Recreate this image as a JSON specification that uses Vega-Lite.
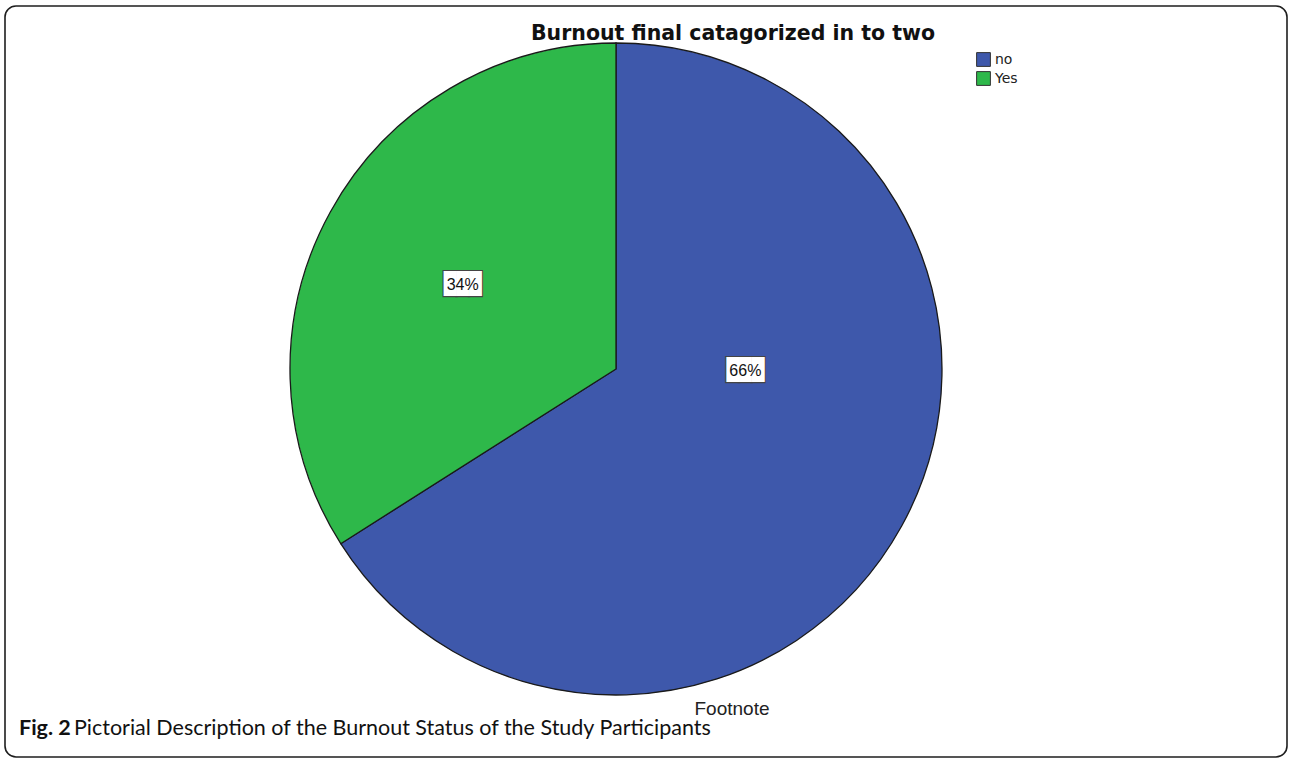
{
  "$schema": "https://vega.github.io/schema/vega-lite/v6.json",
  "width": 1290,
  "height": 761,
  "autosize": {"type": "fit", "contains": "padding"},
  "padding": {"left": 4, "top": 5, "right": 2, "bottom": 3},
  "background": "white",
  "config": {
    "view": {"stroke": null},
    "font": "Liberation Sans"
  },
  "datasets": {
    "pie": [
      {"status": "no", "pct": 66, "rank": 1, "label": "66%"},
      {"status": "Yes", "pct": 34, "rank": 2, "label": "34%"}
    ]
  },
  "layer": [
    {
      "data": {"values": [{}]},
      "mark": {"type": "rect", "filled": false, "stroke": "#1e1e1e", "strokeWidth": 1.6, "cornerRadius": 11},
      "encoding": {
        "x": {"value": 0},
        "x2": {"value": "width"},
        "y": {"value": 0},
        "y2": {"value": "height"}
      }
    },
    {
      "data": {"name": "pie"},
      "mark": {"type": "arc", "radius": 326, "x": 611, "y": 363, "stroke": "#1a1a1a", "strokeWidth": 1.3},
      "encoding": {
        "theta": {"field": "pct", "type": "quantitative", "stack": true},
        "order": {"field": "rank", "type": "quantitative"},
        "color": {
          "field": "status",
          "type": "nominal",
          "sort": ["no", "Yes"],
          "scale": {"domain": ["no", "Yes"], "range": ["#3E58AB", "#2EB84A"]},
          "legend": {
            "orient": "none",
            "legendX": 971,
            "legendY": 46,
            "title": null,
            "padding": 0,
            "symbolType": "square",
            "symbolSize": 190,
            "symbolStrokeColor": "#333333",
            "symbolStrokeWidth": 1,
            "symbolOpacity": 1,
            "labelFont": "DejaVu Sans",
            "labelFontSize": 14,
            "labelColor": "#222222",
            "labelOffset": 4,
            "rowPadding": 0
          }
        }
      }
    },
    {
      "data": {"name": "pie"},
      "mark": {"type": "text", "radius": 175, "x": 611, "y": 363, "dx": 0, "dy": 0, "font": "DejaVu Sans Mono", "fontSize": 21, "baseline": "middle", "fill": "white", "stroke": "#444444", "strokeWidth": 2.2},
      "encoding": {
        "theta": {"field": "pct", "type": "quantitative", "stack": true},
        "order": {"field": "rank", "type": "quantitative"},
        "detail": {"field": "status", "type": "nominal"},
        "text": {"condition": {"test": "datum.status == 'Yes'", "value": "███"}, "value": ""}
      }
    },
    {
      "data": {"name": "pie"},
      "mark": {"type": "text", "radius": 175, "x": 611, "y": 363, "dx": 0, "dy": 0, "font": "DejaVu Sans Mono", "fontSize": 21, "baseline": "middle", "fill": "white"},
      "encoding": {
        "theta": {"field": "pct", "type": "quantitative", "stack": true},
        "order": {"field": "rank", "type": "quantitative"},
        "detail": {"field": "status", "type": "nominal"},
        "text": {"condition": {"test": "datum.status == 'Yes'", "value": "███"}, "value": ""}
      }
    },
    {
      "data": {"name": "pie"},
      "mark": {"type": "text", "radius": 175, "x": 611, "y": 363, "dx": 0, "dy": 0, "fontSize": 16, "baseline": "middle", "color": "#111111"},
      "encoding": {
        "theta": {"field": "pct", "type": "quantitative", "stack": true},
        "order": {"field": "rank", "type": "quantitative"},
        "detail": {"field": "status", "type": "nominal"},
        "text": {"condition": {"test": "datum.status == 'Yes'", "field": "label"}, "value": ""}
      }
    },
    {
      "data": {"name": "pie"},
      "mark": {"type": "text", "radius": 175, "x": 611, "y": 363, "dx": -24, "dy": -82, "font": "DejaVu Sans Mono", "fontSize": 21, "baseline": "middle", "fill": "white", "stroke": "#444444", "strokeWidth": 2.2},
      "encoding": {
        "theta": {"field": "pct", "type": "quantitative", "stack": true},
        "order": {"field": "rank", "type": "quantitative"},
        "detail": {"field": "status", "type": "nominal"},
        "text": {"condition": {"test": "datum.status == 'no'", "value": "███"}, "value": ""}
      }
    },
    {
      "data": {"name": "pie"},
      "mark": {"type": "text", "radius": 175, "x": 611, "y": 363, "dx": -24, "dy": -82, "font": "DejaVu Sans Mono", "fontSize": 21, "baseline": "middle", "fill": "white"},
      "encoding": {
        "theta": {"field": "pct", "type": "quantitative", "stack": true},
        "order": {"field": "rank", "type": "quantitative"},
        "detail": {"field": "status", "type": "nominal"},
        "text": {"condition": {"test": "datum.status == 'no'", "value": "███"}, "value": ""}
      }
    },
    {
      "data": {"name": "pie"},
      "mark": {"type": "text", "radius": 175, "x": 611, "y": 363, "dx": -24, "dy": -82, "fontSize": 16, "baseline": "middle", "color": "#111111"},
      "encoding": {
        "theta": {"field": "pct", "type": "quantitative", "stack": true},
        "order": {"field": "rank", "type": "quantitative"},
        "detail": {"field": "status", "type": "nominal"},
        "text": {"condition": {"test": "datum.status == 'no'", "field": "label"}, "value": ""}
      }
    },
    {
      "data": {"values": [{"t": "Burnout final catagorized in to two"}]},
      "mark": {"type": "text", "x": 728, "y": 34, "align": "center", "baseline": "alphabetic", "font": "DejaVu Sans", "fontSize": 20.5, "fontWeight": "bold", "color": "#111111"},
      "encoding": {"text": {"field": "t", "type": "nominal"}}
    },
    {
      "data": {"values": [{"t": "Footnote"}]},
      "mark": {"type": "text", "x": 727, "y": 709, "align": "center", "baseline": "alphabetic", "fontSize": 19, "color": "#222222"},
      "encoding": {"text": {"field": "t", "type": "nominal"}}
    },
    {
      "data": {"values": [{"t": "Fig. 2"}]},
      "mark": {"type": "text", "x": 14, "y": 729, "align": "left", "baseline": "alphabetic", "fontSize": 21.5, "fontWeight": "bold", "font": "Lato", "color": "#111111"},
      "encoding": {"text": {"field": "t", "type": "nominal"}}
    },
    {
      "data": {"values": [{"t": "Pictorial Description of the Burnout Status of the Study Participants"}]},
      "mark": {"type": "text", "x": 69, "y": 729, "align": "left", "baseline": "alphabetic", "fontSize": 21.5, "font": "Lato", "color": "#111111"},
      "encoding": {"text": {"field": "t", "type": "nominal"}}
    }
  ]
}
